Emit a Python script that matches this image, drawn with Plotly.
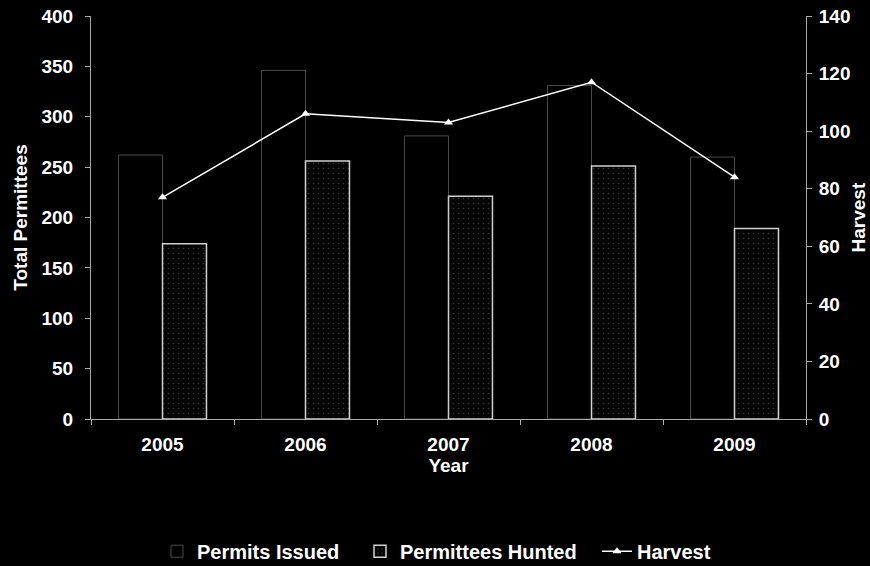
import plotly.graph_objects as go

years = ["2005", "2006", "2007", "2008", "2009"]
permits_issued = [262, 346, 281, 331, 260]
permittees_hunted = [174, 256, 221, 251, 189]
harvest = [77, 106, 103, 117, 84]

FAM = "Liberation Sans, Arial, sans-serif"
font_main = dict(family=FAM, color="white", size=19, weight="bold")
leg_font = dict(size=20, color="white", family=FAM, weight="bold")

def px2paper(px):
    return (px - 91) / 715

fig = go.Figure()
fig.add_trace(go.Bar(
    x=years, y=permits_issued, name="Permits Issued", legend="legend",
    marker=dict(color="black", line=dict(color="#4a4a4a", width=1)),
))
fig.add_trace(go.Bar(
    x=years, y=permittees_hunted, name="Permittees Hunted", legend="legend2",
    marker=dict(color="#050505", line=dict(color="#d0d0d0", width=1.5),
                pattern=dict(shape=".", size=5, solidity=0.08, fgcolor="#6a6a6a", bgcolor="#050505")),
))
fig.add_trace(go.Scatter(
    x=years, y=harvest, name="Harvest", yaxis="y2", mode="lines+markers", legend="legend3",
    line=dict(color="white", width=1.5),
    marker=dict(symbol="triangle-up", size=8, color="white"),
))

leg_common = dict(orientation="h", y=-0.328, yanchor="middle", xanchor="left",
                  font=leg_font, bgcolor="rgba(0,0,0,0)", borderwidth=0)

fig.update_layout(
    width=870, height=566,
    paper_bgcolor="black", plot_bgcolor="black",
    margin=dict(l=91, r=64, t=16, b=147, autoexpand=False),
    font=font_main,
    barmode="group", bargap=0.385, bargroupgap=0,
    showlegend=True,
    legend=dict(x=px2paper(200 - 43), **leg_common),
    legend2=dict(x=px2paper(403 - 43), **leg_common),
    legend3=dict(x=px2paper(640 - 43), **leg_common),
    xaxis=dict(
        title=dict(text="Year", standoff=0, font=dict(size=19)),
        showline=True, linecolor="#aaaaaa", linewidth=1,
        ticks="outside", ticklen=5, tickcolor="#aaaaaa", tickson="boundaries",
        ticklabelstandoff=8,
        showgrid=False, zeroline=False, tickfont=dict(size=19),
    ),
    yaxis=dict(
        title=dict(text="Total Permittees", standoff=8, font=dict(size=19)),
        range=[0, 400], dtick=50,
        showline=True, linecolor="#aaaaaa", linewidth=1,
        ticks="outside", ticklen=5, tickcolor="#aaaaaa", ticklabelstandoff=8,
        showgrid=False, zeroline=False, tickfont=dict(size=19),
    ),
    yaxis2=dict(
        range=[0, 140], dtick=20, overlaying="y", side="right",
        showline=True, linecolor="#aaaaaa", linewidth=1,
        ticks="outside", ticklen=5, tickcolor="#aaaaaa", ticklabelstandoff=3,
        showgrid=False, zeroline=False, tickfont=dict(size=19),
    ),
    annotations=[dict(
        text="Harvest", xref="paper", yref="paper", x=1.0 + (858 - 806) / 715, y=0.5,
        xanchor="center", yanchor="middle", textangle=-90, showarrow=False,
        font=dict(size=19, color="white", family=FAM, weight="bold"),
    )],
)

fig.write_html(
    "out.html",
    config={"displayModeBar": False},
    post_script="document.body.style.margin='0';document.body.style.background='black';",
)
